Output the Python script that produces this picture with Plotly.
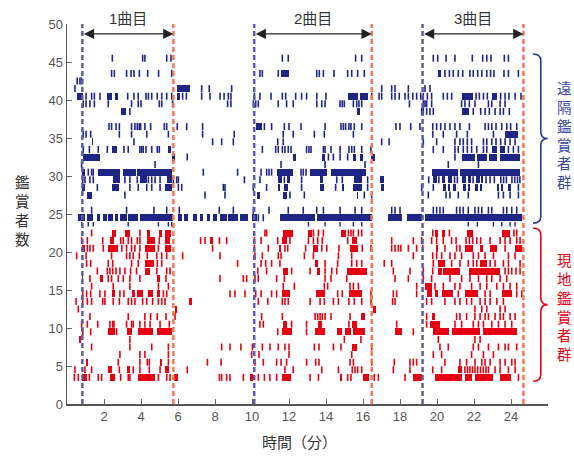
import plotly.graph_objects as go

# ---------------- data ----------------
song_starts = [0.83, 10.12, 19.22]
song_ends = [5.75, 16.47, 24.67]
song_labels = ["1曲目", "2曲目", "3曲目"]

x_ticks = [2, 4, 6, 8, 10, 12, 14, 16, 18, 20, 22, 24]
y_ticks = [0, 5, 10, 15, 20, 25, 30, 35, 40, 45, 50]

# remote viewers (遠隔鑑賞者群): row position, single events (min), continuous runs (min)
remote_rows = [45.5, 43.5, 42.5, 41.5, 40.5, 39.5, 38.5, 36.5, 35.5, 34.5, 33.5,
               32.5, 31.5, 30.5, 29.5, 28.5, 27.5, 25.5, 24.5]
remote_ticks = [
    [2.45, 4.09, 4.21, 5.39, 5.62, 11.64, 11.96, 15.60, 15.93, 19.80, 20.04, 20.49, 20.97, 21.91, 22.47, 22.69, 22.92, 23.64, 23.86],
    [2.41, 2.56, 3.22, 3.46, 3.62, 3.91, 4.36, 4.95, 5.66, 10.43, 10.56, 11.42, 13.50, 13.64, 13.86, 14.43, 15.17, 15.39, 15.71, 16.07,
     20.43, 20.67, 20.88, 21.15, 21.39, 21.78, 21.96, 22.20, 22.42, 22.69, 22.90, 23.08, 23.62, 23.86, 24.40],
    [0.55, 0.70, 0.79],
    [0.43, 7.28, 7.69, 8.90, 17.01, 17.55, 17.73, 18.45, 19.35, 19.62],
    [1.03, 1.33, 1.48, 1.78, 3.28, 3.62, 3.85, 4.27, 4.40, 4.58, 4.88, 5.12, 5.39, 5.66, 6.25, 6.45, 7.28, 7.73, 8.27, 8.49, 8.72,
     8.86, 10.13, 10.43, 11.03, 11.64, 11.82, 12.36, 12.68, 12.95, 13.50, 14.00, 16.47, 16.87, 17.01, 17.55, 17.73, 17.96, 18.27,
     18.45, 18.69, 18.90, 19.12, 19.26, 19.48, 19.71, 20.34, 20.56, 20.79, 22.11, 22.29, 22.51, 22.72, 23.44, 23.68, 23.89, 24.22, 24.54],
    [0.88, 1.03, 1.24, 1.48, 2.23, 3.49, 3.85, 4.00, 4.99, 5.12, 5.71, 8.68, 8.86, 10.07, 10.20, 10.34, 11.42, 11.87, 12.23, 13.50,
     13.77, 13.95, 14.76, 14.88, 14.99, 15.48, 15.66, 15.78, 15.93, 18.51, 19.26, 19.35, 19.44, 19.71, 21.33, 21.51, 21.75, 22.05,
     22.78, 22.96, 23.41, 23.68],
    [3.40, 19.17, 19.26, 19.44, 19.62, 19.80, 21.96, 22.36, 22.60, 22.83, 23.14, 23.41, 23.59, 23.91],
    [2.27, 2.41, 2.65, 2.83, 3.49, 3.67, 3.80, 3.91, 3.98, 4.21, 4.52, 5.26, 5.39, 5.96, 6.47, 7.33, 10.67, 11.06, 11.75, 12.00,
     12.65, 13.95, 14.81, 14.94, 15.06, 15.24, 15.35, 15.53, 15.93, 17.78, 18.00, 18.58, 19.08, 19.77, 19.98, 20.20, 20.43, 20.70,
     20.97, 21.24, 21.75, 22.60, 22.78, 22.96, 23.19, 23.50, 23.77, 23.98, 24.31],
    [0.88, 1.03, 1.28, 2.83, 3.49, 4.31, 5.48, 7.33, 9.04, 11.69, 12.23, 13.37, 13.91, 15.48, 19.77, 20.34, 21.06, 21.64, 23.05],
    [3.62, 7.87, 8.36, 8.99, 11.39, 11.69, 17.01, 17.41, 19.26, 19.98, 20.97, 21.24, 21.42, 21.64, 21.87, 22.51, 22.69, 22.96,
     23.19, 23.44, 23.68, 23.95, 24.22],
    [0.88, 1.21, 1.69, 2.18, 3.08, 3.31, 3.94, 4.03, 4.12, 4.27, 4.58, 4.88, 4.99, 10.56, 11.28, 11.42, 11.64, 11.78, 11.96, 12.11,
     12.95, 13.08, 13.19, 13.86, 13.95, 14.27, 14.76, 15.24, 15.39, 15.53, 15.93, 16.43, 19.80, 20.34, 20.97, 21.15, 21.42, 21.64,
     21.87, 22.15, 22.51, 22.69, 23.86, 24.13, 24.40],
    [6.50, 14.13, 14.40, 14.76, 15.17, 20.97],
    [0.79, 4.76, 11.57, 13.95, 16.11, 20.61, 22.24],
    [1.15, 1.33, 1.42, 7.37, 9.22, 10.49, 10.79, 10.92, 11.06, 12.65, 12.77, 12.92],
    [0.85, 0.97, 1.24, 1.42, 3.13, 3.40, 3.80, 4.40, 4.58, 4.76, 5.03, 5.75, 5.93, 6.02, 9.59, 10.43, 11.75, 12.68, 14.58, 14.88,
     16.25, 19.55, 20.10, 20.95, 21.10, 21.95, 22.65, 22.87, 23.10, 23.45, 23.60, 23.75, 24.05, 24.20, 24.35, 24.48],
    [1.64, 3.40, 3.85, 4.31, 4.58, 5.03, 6.02, 6.20, 8.45, 8.54, 10.07, 10.79, 12.68, 14.52, 16.25, 19.17, 19.80, 24.40],
    [3.13, 7.46, 8.54, 12.05, 12.83, 16.07, 16.47, 19.53, 20.49, 20.70, 21.15, 21.69, 23.32, 23.59, 23.95, 24.40],
    [1.33, 3.22, 4.70, 5.39, 6.07, 8.23, 8.99, 10.07, 10.92, 11.96, 12.77, 13.50, 13.86, 14.76, 15.57, 15.93, 17.55, 17.73, 18.00,
     19.80, 19.98, 20.16, 20.34, 21.06, 21.24, 21.42, 21.69, 22.05, 22.24, 22.42, 22.78, 22.96, 23.59, 23.77, 24.04, 24.31],
    [10.34, 10.61],
]
remote_runs = [
    [],
    [(11.57, 12.00), (20.07, 20.22)],
    [],
    [(5.93, 6.65)],
    [(0.52, 0.85), (2.14, 2.41), (2.59, 2.77), (5.93, 6.10), (15.21, 15.75), (15.84, 16.25), (21.33, 21.96), (22.96, 23.26)],
    [],
    [(2.92, 3.19), (15.66, 15.84), (21.33, 21.75)],
    [(10.20, 10.52)],
    [(23.68, 24.40)],
    [(1.33, 1.42)],
    [(2.41, 2.72), (5.48, 5.62), (22.96, 23.23), (23.41, 23.68)],
    [(0.85, 1.78), (5.66, 5.84), (12.23, 12.36), (13.77, 13.95), (15.48, 15.60), (15.84, 16.02), (16.43, 16.65),
     (21.33, 22.05), (22.15, 22.70), (22.80, 23.25), (23.40, 24.50)],
    [],
    [(0.79, 0.97), (1.69, 2.86), (3.04, 3.73), (3.80, 5.66), (11.33, 12.23), (13.14, 14.04), (14.27, 16.14),
     (19.71, 21.15), (21.25, 24.50)],
    [(2.50, 2.86), (3.94, 4.31), (5.39, 5.66), (11.42, 11.60), (11.87, 12.05), (13.68, 13.86), (15.53, 15.96), (16.92, 17.15),
     (19.80, 20.00), (20.25, 20.45), (20.60, 20.80), (21.35, 21.55), (21.70, 21.85), (22.10, 22.30), (22.40, 22.50)],
    [(0.79, 0.97), (2.41, 2.83), (5.30, 5.66), (11.39, 11.51), (11.75, 11.93), (13.68, 13.89), (14.85, 14.99), (15.48, 15.96),
     (16.97, 17.15), (20.34, 20.50), (20.60, 20.70), (20.88, 21.00), (21.42, 21.55), (21.65, 21.78), (22.05, 22.20),
     (22.30, 22.42), (23.23, 23.35), (23.45, 23.59), (23.86, 24.00)],
    [(1.10, 1.37), (10.25, 10.43), (11.69, 11.87), (15.66, 15.75)],
    [],
    [(0.61, 0.97), (1.06, 1.42), (1.60, 1.78), (1.96, 2.14), (2.23, 2.50), (2.59, 2.77), (2.86, 3.22), (3.31, 3.85),
     (3.94, 5.75), (6.02, 6.20), (6.32, 6.56), (6.83, 7.01), (7.19, 7.37), (7.55, 7.73), (7.91, 8.09), (8.27, 8.63),
     (8.72, 9.26), (9.35, 9.80), (9.98, 10.25), (11.51, 13.41), (13.50, 16.47), (17.33, 18.09), (18.36, 19.17), (19.35, 24.58)],
]
# short remote events drawn just under the dense remote row
remote_short_row = 23.65
remote_short_ticks = [0.79, 1.15, 1.42, 3.31, 4.94, 5.48, 5.66, 13.05, 13.95, 14.76, 15.48, 15.93,
                      21.69, 22.18, 23.05, 23.50, 23.95, 24.22]

# on-site viewers (現地鑑賞者群)
local_rows = [22.5, 21.5, 20.5, 19.5, 18.5, 17.5, 16.5, 15.5, 14.5, 13.5, 12.5,
              11.5, 10.5, 9.5, 8.5, 7.5, 6.5, 5.5, 4.5, 3.5]
local_ticks = [
    [1.33, 3.94, 10.70, 10.79, 13.32, 13.59, 13.86, 15.21, 15.35, 15.48, 15.75, 15.93, 19.77, 20.67, 24.16, 24.31],
    [0.79, 1.10, 1.93, 2.90, 3.04, 3.31, 3.49, 3.80, 3.94, 4.99, 7.22, 7.46, 8.24, 8.63, 10.13, 10.49, 11.39, 12.05, 13.05,
     13.32, 13.55, 13.80, 15.17, 17.55, 18.72, 19.17, 19.71, 19.98, 20.34, 20.79, 21.03, 21.57, 21.75, 21.93, 22.15, 22.36,
     22.87, 23.41, 23.68, 23.95, 24.31, 24.49],
    [1.10, 1.24, 1.42, 1.96, 2.96, 3.22, 3.49, 3.67, 3.94, 4.94, 7.87, 10.13, 10.88, 11.78, 11.93, 12.90, 13.77, 14.04, 14.70,
     15.96, 16.43, 17.55, 17.73, 17.91, 18.04, 18.45, 18.90, 19.23, 20.43, 21.06, 21.24, 23.68],
    [0.52, 1.03, 2.41, 3.22, 3.40, 3.58, 3.91, 4.34, 4.85, 5.12, 5.39, 6.25, 8.27, 10.16, 10.56, 11.42, 11.57, 12.83, 13.32,
     14.67, 15.39, 18.72, 19.77, 19.98, 20.25, 20.70, 20.97, 21.33, 21.96, 22.24, 22.60, 23.05, 23.86, 24.22],
    [1.06, 1.28, 2.23, 2.47, 3.49, 3.85, 4.88, 5.12, 9.22, 10.49, 10.74, 11.06, 11.51, 13.95, 14.63, 15.39, 15.66, 15.93, 17.15,
     17.55, 19.80, 20.79, 21.24, 21.69, 21.96, 22.15, 22.87, 23.14, 23.59, 23.86, 24.49],
    [1.64, 2.18, 2.32, 2.47, 2.65, 2.86, 3.13, 3.44, 3.76, 4.85, 5.39, 5.57, 10.31, 10.79, 12.14, 13.14, 13.95, 14.31, 14.58,
     17.64, 18.54, 19.26, 19.77, 23.68, 23.86, 24.04, 24.27, 24.49],
    [1.24, 2.23, 2.41, 2.77, 3.04, 3.40, 3.94, 5.35, 8.27, 9.53, 9.71, 10.16, 10.34, 11.33, 11.75, 13.95, 14.27, 15.12, 17.73,
     18.45, 19.26, 19.71, 20.70, 21.33, 21.78, 22.24, 22.69, 22.96, 23.41, 23.77],
    [1.33, 2.50, 3.40, 4.94, 5.48, 11.69, 12.29, 13.91, 14.09, 15.30, 15.48, 15.75, 18.90, 19.89, 20.34, 20.97, 21.24, 21.87,
     22.33, 22.69, 23.23, 23.59, 23.95, 24.31],
    [0.85, 1.06, 1.28, 1.78, 2.05, 2.86, 3.08, 5.21, 5.39, 8.81, 9.08, 9.62, 10.20, 10.49, 11.06, 11.33, 14.63, 14.88, 16.43,
     17.64, 17.82, 18.90, 21.15, 22.60, 22.87, 24.31, 24.58],
    [0.49, 0.85, 1.10, 1.33, 1.93, 2.05, 2.50, 2.83, 3.31, 3.49, 3.67, 4.09, 4.31, 4.63, 4.94, 5.12, 5.30, 10.34, 10.85, 11.64,
     11.78, 11.96, 13.14, 13.68, 13.91, 14.40, 14.67, 15.24, 15.53, 15.93, 16.43, 17.60, 17.73, 19.44, 19.71, 20.43, 20.97,
     21.24, 21.60, 21.87, 22.33, 22.60, 22.87, 23.23, 23.59],
    [0.61, 22.05, 22.42, 22.69, 23.41, 23.68],
    [1.24, 3.31, 4.21, 4.52, 4.88, 5.35, 5.84, 10.52, 11.64, 13.41, 13.55, 13.68, 13.80, 13.95, 14.27, 15.30, 19.44, 21.06,
     21.24, 21.60, 22.05, 22.33, 22.60, 22.78, 23.14, 23.41, 23.59, 23.95, 24.22],
    [0.79, 1.10, 1.66, 2.32, 2.47, 2.54, 3.22, 3.49, 3.58, 3.94, 4.21, 4.49, 5.03, 5.53, 10.43, 10.61, 12.14, 12.95, 15.24,
     17.82, 19.44, 20.97, 21.33, 21.96, 22.24, 22.51, 22.96, 23.32, 23.68, 24.04],
    [0.85, 1.28, 2.68, 11.39, 12.95, 18.72],
    [3.40, 14.99, 15.89, 20.07, 22.05, 22.33],
    [1.33, 3.40, 4.58, 5.48, 8.36, 8.81, 9.40, 10.02, 10.56, 10.97, 11.42, 11.78, 12.00, 13.37, 13.62, 14.40, 14.81, 16.47,
     20.16, 20.61, 21.96, 22.24, 22.78, 23.32, 23.68, 23.86, 24.31],
    [2.86, 3.94, 4.21, 5.48, 9.98, 10.38, 12.00, 15.39, 19.80, 20.25, 21.87, 22.51, 23.05],
    [2.77, 3.94, 4.34, 4.45, 5.48, 7.59, 8.33, 10.16, 10.61, 11.33, 11.57, 11.87, 12.95, 13.44, 13.62, 15.30, 15.48, 16.47,
     17.69, 18.54, 18.72, 18.90, 20.43, 21.24, 21.60, 22.05, 22.42, 22.60, 22.87, 23.41, 23.68, 24.04, 24.22],
    [0.43, 0.97, 1.33, 2.83, 3.58, 3.94, 4.45, 5.03, 6.50, 11.78, 12.23, 13.77, 14.67, 15.42, 15.57, 15.71, 15.93, 17.64,
     18.54, 19.77, 20.25, 21.51, 21.65, 21.78, 21.92, 22.05, 22.20, 22.35, 22.50, 22.65, 22.78, 23.14, 23.41, 23.86, 24.22],
    [0.40, 0.61, 1.21, 1.69, 1.87, 2.90, 3.31, 3.40, 4.94, 5.39, 5.57, 8.24, 8.36, 8.63, 8.81, 9.53, 10.34, 10.67, 10.97,
     11.33, 13.14, 13.59, 15.17, 15.35, 16.61, 16.83, 18.27, 24.40],
]
local_runs = [
    [(2.41, 2.65), (3.13, 3.40), (4.34, 4.49), (4.99, 5.12), (5.30, 5.60), (11.69, 12.23), (13.05, 13.23), (14.81, 15.06),
     (19.89, 20.07), (20.25, 20.43), (21.60, 21.93), (23.50, 23.95)],
    [(2.32, 2.54), (4.34, 4.76), (5.30, 5.57), (7.73, 7.87), (11.64, 11.87), (15.42, 15.66)],
    [(0.79, 0.97), (2.23, 2.77), (4.22, 4.76), (5.30, 5.60), (11.46, 11.57), (13.32, 13.59), (15.30, 15.71), (19.95, 20.07),
     (21.51, 21.96), (22.33, 22.51), (22.87, 23.23), (24.22, 24.58)],
    [],
    [(4.22, 4.70), (13.41, 13.55), (20.07, 20.43), (22.33, 22.69)],
    [(4.22, 4.49), (11.69, 11.96), (13.50, 13.68), (15.12, 16.20), (20.07, 20.25), (20.31, 21.24), (21.75, 23.41)],
    [(0.79, 0.88), (1.78, 1.93), (4.85, 5.03)],
    [(19.35, 19.71)],
    [(2.41, 2.59), (3.49, 3.67), (3.80, 4.09), (4.40, 4.67), (4.88, 5.03), (11.64, 12.05), (13.44, 13.95), (15.24, 15.93),
     (19.44, 19.71), (19.89, 20.07), (20.25, 20.88), (21.51, 22.24), (23.50, 24.04)],
    [(6.61, 6.74)],
    [(5.84, 5.93), (16.56, 16.69)],
    [(15.89, 16.11), (19.71, 19.89)],
    [(11.69, 11.87), (13.55, 13.80), (15.42, 15.66), (19.62, 20.16)],
    [(2.23, 2.59), (3.22, 3.49), (3.85, 4.67), (4.85, 5.66), (11.64, 12.14), (13.41, 13.95), (14.58, 14.88), (15.03, 15.35),
     (15.48, 16.11), (17.73, 18.09), (19.80, 20.67), (20.79, 22.33), (22.51, 24.31)],
    [(0.67, 0.74)],
    [(15.39, 15.66)],
    [],
    [(1.03, 1.15), (5.03, 5.12)],
    [(2.23, 2.41), (3.22, 3.40), (5.30, 5.53), (21.15, 21.33)],
    [(0.79, 1.06), (2.32, 2.59), (3.85, 4.76), (5.78, 6.02), (9.89, 10.07), (11.64, 12.09), (14.76, 14.88), (16.02, 16.32),
     (18.72, 19.17), (19.89, 21.33), (21.51, 21.87), (22.05, 23.05), (23.41, 23.98)],
]

# group extents for the braces (data units)
remote_span = (23.8, 46.05)
local_span = (3.0, 23.15)

# ---------------- style ----------------
BLUE = "#1f2585"
RED = "#e60012"
BLUE_DASH = "#5d5dab"
ORANGE_DASH = "#ef7b52"
FONT = "Liberation Sans, Arial, Noto Sans CJK JP, sans-serif"
TICK_HALF = 0.46
BAR_W = 0.92

fig = go.Figure()


def add_group(rows, ticks, runs, color):
    xs, ys = [], []
    for r, tl in zip(rows, ticks):
        for t in tl:
            xs += [t, t, None]
            ys += [r - TICK_HALF, r + TICK_HALF, None]
    fig.add_trace(go.Scatter(x=xs, y=ys, mode="lines", line=dict(color=color, width=1.6),
                             hoverinfo="skip", showlegend=False))
    base, length, yy = [], [], []
    for r, rl in zip(rows, runs):
        for a, b in rl:
            base.append(a)
            length.append(b - a)
            yy.append(r)
    fig.add_trace(go.Bar(x=length, y=yy, base=base, orientation="h", width=BAR_W,
                         marker=dict(color=color, line=dict(width=0)), showlegend=False,
                         hoverinfo="skip"))


add_group(local_rows, local_ticks, local_runs, RED)
add_group(remote_rows, remote_ticks, remote_runs, BLUE)

# short remote ticks
xs, ys = [], []
for t in remote_short_ticks:
    xs += [t, t, None]
    ys += [remote_short_row - 0.3, remote_short_row + 0.3, None]
fig.add_trace(go.Scatter(x=xs, y=ys, mode="lines", line=dict(color=BLUE, width=1.4),
                         hoverinfo="skip", showlegend=False))

shapes = []
annotations = []
for s, e, lab in zip(song_starts, song_ends, song_labels):
    shapes.append(dict(type="line", xref="x", yref="y", x0=s, x1=s, y0=0, y1=50,
                       line=dict(color=BLUE_DASH, width=2.5, dash="5px,3px"), layer="above"))
    shapes.append(dict(type="line", xref="x", yref="y", x0=e, x1=e, y0=0, y1=50,
                       line=dict(color=ORANGE_DASH, width=2.5, dash="5px,3px"), layer="above"))
    annotations.append(dict(x=e, y=48.7, ax=s, ay=48.7, xref="x", yref="y", axref="x", ayref="y",
                            text="", showarrow=True, arrowhead=2, startarrowhead=2, arrowside="end+start",
                            arrowsize=1.7, startarrowsize=1.7, arrowwidth=1.2, arrowcolor="#222",
                            standoff=0, startstandoff=0))
    annotations.append(dict(x=(s + e) / 2, y=50.75 / 50.0, xref="x", yref="paper", text=lab,
                            showarrow=False, xanchor="center", yanchor="middle",
                            font=dict(size=15, color="#333", family=FONT)))


def brace(span, color):
    yb, yt = span[0] / 50.0, span[1] / 50.0
    ym = (yb + yt) / 2
    xh, xv, xt = 0.969, 0.985, 0.999
    r = 0.018
    path = (f"M {xh},{yt} Q {xv},{yt} {xv},{yt - r} L {xv},{ym + r} Q {xv},{ym} {xt},{ym} "
            f"M {xt},{ym} Q {xv},{ym} {xv},{ym - r} L {xv},{yb + r} Q {xv},{yb} {xh},{yb}")
    return dict(type="path", xref="paper", yref="paper", path=path,
                line=dict(color=color, width=1.6), layer="above")


shapes.append(brace(remote_span, "#2a3590"))
shapes.append(brace(local_span, RED))

annotations.append(dict(x=1.035, y=sum(remote_span) / 2 + 0.3, xref="paper", yref="y",
                        text="<br>".join("遠隔鑑賞者群"), showarrow=False,
                        xanchor="center", yanchor="middle",
                        font=dict(size=14.5, color="#3a4aa0", family=FONT)))
annotations.append(dict(x=1.035, y=sum(local_span) / 2 - 0.4, xref="paper", yref="y",
                        text="<br>".join("現地鑑賞者群"), showarrow=False,
                        xanchor="center", yanchor="middle",
                        font=dict(size=14.5, color=RED, family=FONT)))
annotations.append(dict(x=-0.093, y=25.3, xref="paper", yref="y",
                        text="<br>".join("鑑賞者数"), showarrow=False,
                        xanchor="center", yanchor="middle",
                        font=dict(size=14.5, color="#333", family=FONT)))
annotations.append(dict(x=0.484, y=-0.1, xref="paper", yref="paper",
                        text="時間（分）", showarrow=False,
                        xanchor="center", yanchor="middle",
                        font=dict(size=15, color="#333", family=FONT)))

fig.update_layout(
    width=574, height=456,
    margin=dict(l=67, r=26, t=24, b=52),
    paper_bgcolor="white", plot_bgcolor="white",
    barmode="overlay", bargap=0,
    showlegend=False,
    shapes=shapes, annotations=annotations,
    font=dict(family=FONT),
    xaxis=dict(range=[0, 26], tickvals=x_ticks, ticks="inside", ticklen=5, tickcolor="#666",
               showline=True, linecolor="#555", linewidth=1.5, showgrid=False, zeroline=False,
               tickfont=dict(size=13, color="#555", family=FONT)),
    yaxis=dict(range=[0, 50], tickvals=y_ticks, ticks="inside", ticklen=5, tickcolor="#666",
               showline=True, linecolor="#555", linewidth=1.5, showgrid=False, zeroline=False,
               tickfont=dict(size=13, color="#555", family=FONT)),
)

# remove the default page margin so the 574x456 figure fills the window exactly
fig.write_html("out.html",
               config={"displayModeBar": False, "staticPlot": True},
               post_script="document.body.style.margin='0';document.body.style.overflow='hidden';")
